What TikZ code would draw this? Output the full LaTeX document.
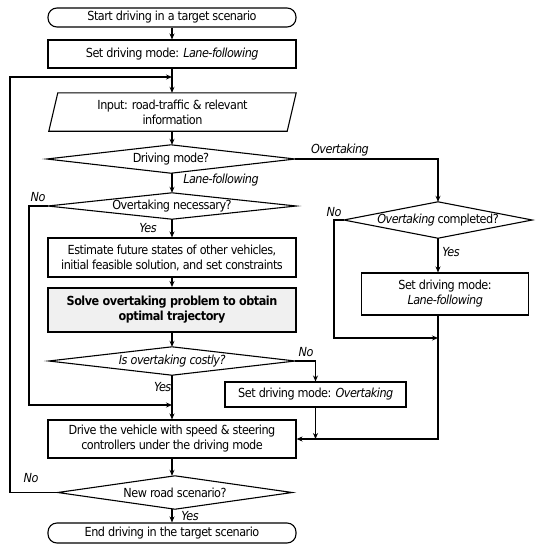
\documentclass[tikz,border=0pt]{standalone}
\usepackage{fontspec}
\setmainfont{DejaVu Sans Condensed}[LetterSpace=-4,BoldFont={DejaVu Sans Condensed Bold},ItalicFont={DejaVu Sans Condensed Oblique},BoldItalicFont={DejaVu Sans Condensed Bold Oblique}]
\usetikzlibrary{arrows.meta}
\newcommand\myfs{\fontsize{12.5}{15}\selectfont}
\begin{document}
\begin{tikzpicture}[x=1pt,y=-1pt,
  box/.style={draw,line width=1.1pt,inner sep=0pt,align=center,font=\myfs},
  term/.style={box,rounded corners=9pt},
  dec/.style={inner sep=0pt,align=center,font=\myfs},
  lbl/.style={inner sep=0pt,font=\myfs\itshape},
  arr/.style={-{Stealth[length=6pt,width=5pt,inset=2pt]},line width=1.1pt},
  ln/.style={line width=1.1pt}]
\useasboundingbox (0,0) rectangle (540,550);
% nodes
\node[term,minimum width=248pt,minimum height=19pt] (start) at (172,17.5) {Start driving in a target scenario};
\node[box,minimum width=248pt,minimum height=28pt] (m1) at (172,54) {Set driving mode: \textit{Lane-following}};
\node[dec,minimum width=238pt,minimum height=38pt] (inp) at (172.5,112) {Input: road-traffic \& relevant\\information};
\draw[ln] ([xshift=4.5pt]inp.north west) -- ([xshift=4.5pt]inp.north east) -- ([xshift=-4.5pt]inp.south east) -- ([xshift=-4.5pt]inp.south west) -- cycle;
\node[dec,minimum width=248pt,minimum height=28pt] (dm) at (171,159) {Driving mode?};
\node[dec,minimum width=248pt,minimum height=26pt] (on) at (172,206) {Overtaking necessary?};
\node[box,minimum width=248pt,minimum height=39pt] (est) at (172,257.5) {Estimate future states of other vehicles,\\initial feasible solution, and set constraints};
\node[box,minimum width=248pt,minimum height=44pt,line width=2pt,fill=gray!12,font=\myfs\bfseries] (solve) at (172,310) {Solve overtaking problem to obtain\\optimal trajectory};
\node[dec,minimum width=246pt,minimum height=28pt] (cost) at (172,361) {\textit{Is overtaking costly?}};
\node[box,minimum width=181pt,minimum height=25pt] (ot) at (315.5,394.5) {Set driving mode: \textit{Overtaking}};
\node[box,minimum width=248pt,minimum height=38pt] (drive) at (172,439) {Drive the vehicle with speed \& steering\\controllers under the driving mode};
\node[dec,minimum width=234pt,minimum height=33pt] (nr) at (175,492.5) {New road scenario?};
\node[term,minimum width=248pt,minimum height=20pt] (end) at (172,533) {End driving in the target scenario};
\node[dec,minimum width=188pt,minimum height=36pt] (oc) at (438,220) {\textit{Overtaking} completed?};
\node[box,minimum width=167pt,minimum height=42pt] (lf) at (445,294) {Set driving mode:\\\textit{Lane-following}};
% diamonds
\foreach \d in {dm,on,cost,nr,oc}
  \draw[ln] (\d.west) -- (\d.north) -- (\d.east) -- (\d.south) -- cycle;
% labels
\node[lbl] (lOT) at (340,150) {Overtaking};
\node[lbl] (lLF) at (221,180) {Lane-following};
\node[lbl] (lNo1) at (38,197) {No};
\node[lbl] (lYes1) at (148,228) {Yes};
\node[lbl] (lNo2) at (334,212) {No};
\node[lbl] (lYes2) at (451,252) {Yes};
\node[lbl] (lNo3) at (306,352) {No};
\node[lbl,anchor=east] (lYes3) at (171.5,387) {Yes};
\node[lbl] (lNo4) at (31,478) {No};
\node[lbl] (lYes4) at (190,516) {Yes};
% coordinates
\coordinate (nrL) at (10,492.5);
\coordinate (topL) at (10,77);
\coordinate (topJ) at (172,77);
\coordinate (onL) at (29,206);
\coordinate (onB) at (29,405);
\coordinate (onJ) at (172,405);
\coordinate (ocL) at (334,220);
\coordinate (ocB) at (334,338);
\coordinate (ocJ) at (438,338);
\coordinate (lfJ) at (438,439);
% connectors
\draw[arr] (start) -- (m1);
\draw[arr] (m1) -- (inp.north -| m1.south);
\draw[arr] (nr.west) -- (nrL) -- (topL) -- (topJ);
\draw[arr] (inp.south -| m1.south) -- (m1.south |- dm.north);
\draw[arr] (dm.east) -| (oc.north);
\draw[arr] (m1.south |- dm.south) -- (on.north);
\draw[arr] (on.south) -- (est.north);
\draw[arr] (on.west) -- (onL) -- (onB) -- (onJ);
\draw[arr] (est) -- (solve);
\draw[arr] (solve) -- (cost);
\draw[arr] (cost.south) -- (drive.north);
\draw[arr] (cost.east) -| (ot.north);
\draw[arr] (ot.south) -- (ot.south |- drive.east);
\draw[arr] (oc.south) -- (oc.south |- lf.north);
\draw[arr] (oc.west) -- (ocL) -- (ocB) -- (ocJ);
\draw[arr] (oc.south |- lf.south) -- (lfJ) -- (drive.east);
\draw[arr] (drive.south) -- (drive.south |- nr.north);
\draw[arr] (end.north |- nr.south) -- (end.north);
\end{tikzpicture}
\end{document}
